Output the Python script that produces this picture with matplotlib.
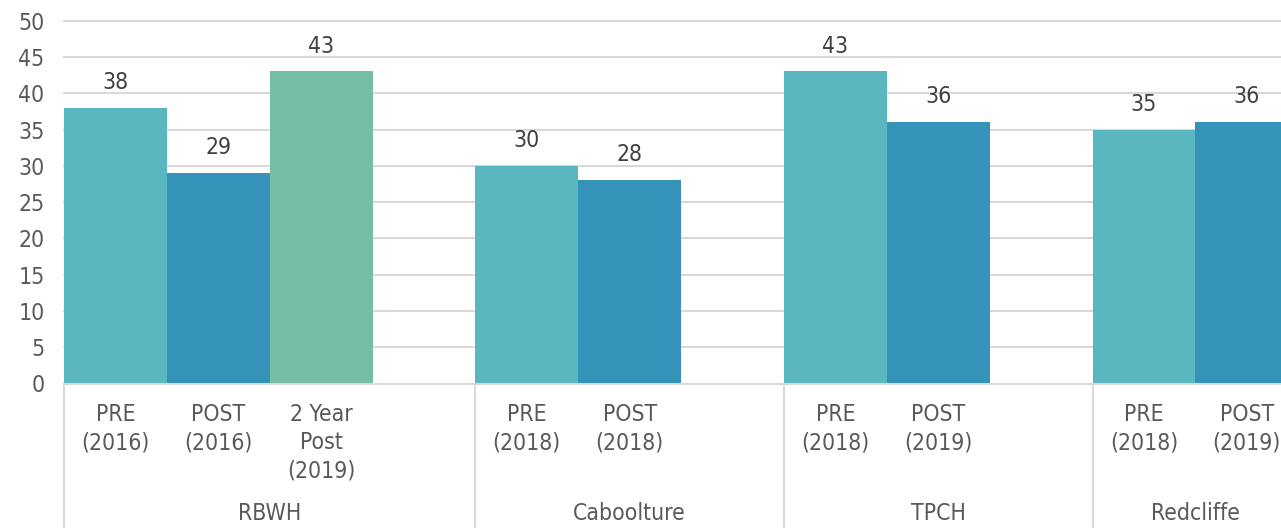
import matplotlib
matplotlib.use("Agg")
import matplotlib.pyplot as plt
from matplotlib.transforms import blended_transform_factory

# ---- data ----
groups = ["RBWH", "Caboolture", "TPCH", "Redcliffe"]
categories = [
    ["PRE\n(2016)", "POST\n(2016)", "2 Year\nPost\n(2019)", ""],
    ["PRE\n(2018)", "POST\n(2018)", ""],
    ["PRE\n(2018)", "POST\n(2019)", ""],
    ["PRE\n(2018)", "POST\n(2019)"],
]
values = [
    [38, 29, 43, None],
    [30, 28, None],
    [43, 36, None],
    [35, 36],
]
series_kind = [
    ["pre", "post", "two", None],
    ["pre", "post", None],
    ["pre", "post", None],
    ["pre", "post"],
]
colors = {"pre": "#5AB6BF", "post": "#3593BA", "two": "#76BDA6"}
yticks = list(range(0, 55, 5))

W, H = 1281, 528
fig = plt.figure(figsize=(W / 100, H / 100), dpi=100)
plt.rcParams['font.family'] = ['DejaVu Sans']

slot_px = 102.85
left_px, top_px, bottom_px = 64, 20.7, 383.5
ax = fig.add_axes([left_px / W, 1 - bottom_px / H, 1 - left_px / W, (bottom_px - top_px) / H])

ax.set_xlim(0, (W - left_px) / slot_px)
ax.set_ylim(0, 50)
ax.set_yticks(yticks)
ax.yaxis.grid(True, color="#D9D9D9", linewidth=1.5)
for gl in ax.get_ygridlines():
    gl.set_clip_on(False)
ax.set_axisbelow(True)
for s in ["top", "right", "left"]:
    ax.spines[s].set_visible(False)
ax.spines["bottom"].set_color("#D9D9D9")
ax.spines["bottom"].set_linewidth(1.5)
ax.tick_params(axis="y", length=0, pad=14, labelsize=16.5, labelcolor="#595959")
ax.set_xticks([])

fstretch = "condensed"
fs = 16.5
trans = blended_transform_factory(ax.transData, fig.transFigure)
sep_trans = blended_transform_factory(ax.transData, ax.transAxes)
ybot_axes = -(H - bottom_px) / (bottom_px - top_px)

pos = 0
for gi, g in enumerate(groups):
    start = pos
    ax.plot([start, start], [0, ybot_axes], color="#D9D9D9", lw=1.5,
            transform=sep_trans, clip_on=False)
    for ci, cat in enumerate(categories[gi]):
        v = values[gi][ci]
        k = series_kind[gi][ci]
        x = pos + 0.5
        if v is not None:
            ax.bar(x, v, width=1.0, color=colors[k], linewidth=0)
            ax.annotate(str(v), (x, v), xytext=(0, 10), textcoords="offset points",
                        ha="center", va="bottom", fontsize=fs, color="#404040",
                        fontstretch=fstretch, annotation_clip=False)
        if cat:
            ax.text(x, 1 - 403 / H, cat, transform=trans, ha="center", va="top",
                    fontsize=fs, color="#595959", linespacing=1.28,
                    fontstretch=fstretch, clip_on=False)
        pos += 1
    center = (start + pos) / 2
    ax.text(center, 1 - 513 / H, g, transform=trans, ha="center", va="center",
            fontsize=fs, color="#595959", fontstretch=fstretch, clip_on=False)

for lab in ax.get_yticklabels():
    lab.set_fontstretch(fstretch)

fig.savefig("out.png", dpi=100)
